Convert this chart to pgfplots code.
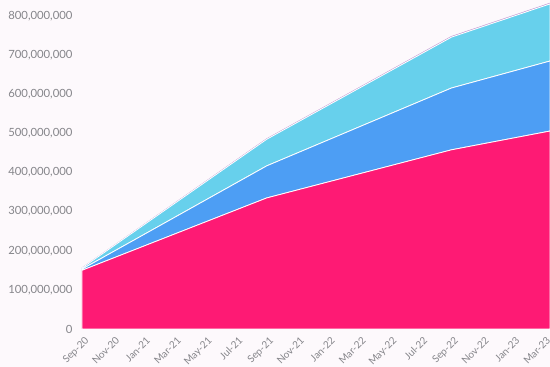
\documentclass[border=0pt]{standalone}
\usepackage{fontspec}
\setmainfont{Lato}
\usepackage{pgfplots}
\pgfplotsset{compat=1.18}
\definecolor{bgc}{HTML}{FDF9FC}
\definecolor{pinkc}{HTML}{FE1A74}
\definecolor{bluec}{HTML}{4D9EF4}
\definecolor{cyanc}{HTML}{67D0EC}
\definecolor{purc}{HTML}{C9A3D8}
\definecolor{txtc}{HTML}{85858A}
\begin{document}
\begin{tikzpicture}[x=1pt,y=1pt]
\fill[bgc] (0,0) rectangle (550,367);
\begin{axis}[
  at={(82pt,38pt)}, anchor=south west,
  scale only axis, width=468pt, height=329pt,
  xmin=0, xmax=30.4, ymin=0, ymax=841000000,
  axis line style={draw=none},
  clip=true,
  stack plots=y,
  xtick={0,2,...,30},
  xticklabels={Sep-20,Nov-20,Jan-21,Mar-21,May-21,Jul-21,Sep-21,Nov-21,Jan-22,Mar-22,May-22,Jul-22,Sep-22,Nov-22,Jan-23,Mar-23},
  ytick={0,100000000,...,800000000},
  scaled y ticks=false,
  yticklabel style={/pgf/number format/fixed,/pgf/number format/1000 sep={,},/pgf/number format/assume math mode=true, font=\fontsize{11.3}{13}\selectfont, text=txtc, xshift=-6pt},
  xticklabel style={rotate=45, anchor=north east, font=\fontsize{10}{12}\selectfont, text=txtc, xshift=0pt, yshift=-3pt},
  every axis plot/.append style={line width=0.8pt},
  tick style={draw=none},
  xticklabel pos=bottom,
  yticklabel pos=left,
]
\addplot[fill=pinkc, draw=white] coordinates {(0,150000000) (12,335000000) (24,458000000) (30.4,506000000)} \closedcycle;
\addplot[fill=bluec, draw=white] coordinates {(0,3000000) (12,82000000) (24,158000000) (30.4,179000000)} \closedcycle;
\addplot[fill=cyanc, draw=white] coordinates {(0,3000000) (12,68000000) (24,130000000) (30.4,146000000)} \closedcycle;
\addplot[fill=purc, draw=purc, line width=0.6pt] coordinates {(0,500000) (12,1500000) (24,2000000) (30.4,2000000)} \closedcycle;
\end{axis}
\pgfresetboundingbox
\path[use as bounding box] (0,0) rectangle (550,367);
\end{tikzpicture}
\end{document}
